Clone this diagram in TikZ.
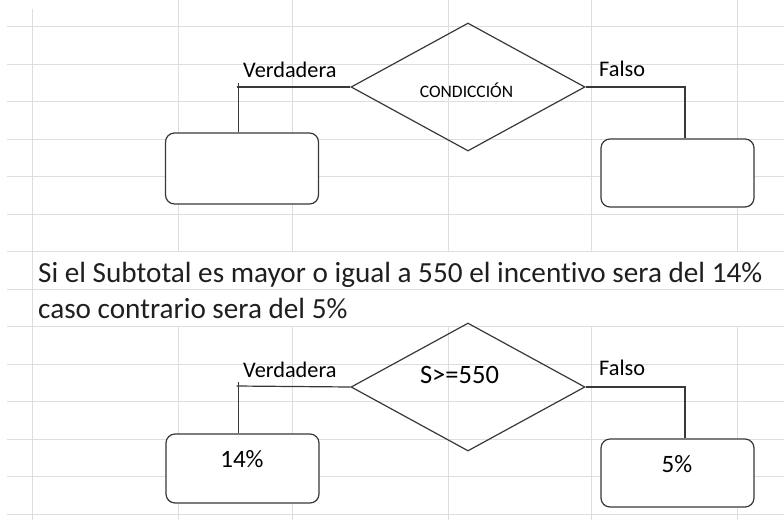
\documentclass[tikz,border=0pt]{standalone}
\usepackage{fontspec}
\setmainfont{Carlito}[Ligatures=NoCommon]
\usetikzlibrary{shapes.geometric, arrows}
\definecolor{cellgrid}{HTML}{DEDEDE}
\definecolor{ink}{HTML}{383838}
\tikzstyle{decision} = [diamond, minimum width=234pt, minimum height=128pt, inner sep=0pt, draw=ink, line width=1.2pt]
\tikzstyle{result} = [rectangle, rounded corners=9pt, minimum width=153pt, minimum height=69pt, draw=ink, fill=white, line width=1.2pt]
\tikzstyle{tag} = [inner sep=0pt, anchor=base west, font=\fontsize{22.3}{26}\selectfont]
\tikzstyle{value} = [inner sep=0pt, anchor=base, font=\fontsize{25}{30}\selectfont]
\tikzstyle{note} = [inner sep=0pt, anchor=base west, text=black!88, font=\fontsize{29.2}{35}\selectfont]
\tikzstyle{link} = [draw=ink, line width=1.2pt]
\tikzstyle{gridline} = [cellgrid, line width=1pt]

\begin{document}
\begin{tikzpicture}[x=1pt, y=-1pt]
\useasboundingbox (0,0) rectangle (784,520);

% cuadricula de la hoja
\foreach \k in {0,...,13}
  \draw [gridline] (7,26.5+37.5*\k) -- (784,26.5+37.5*\k);
\draw [gridline] (32,9) -- (32,520);
\foreach \x in {178,292.5,448,591,737} {
  \draw [gridline] (\x,0) -- (\x,251.5);
  \draw [gridline] (\x,326.5) -- (\x,520);
}

% esquema general
\node (cond1) [decision] at (468,87) {};
\node (yes1) [result, minimum height=71pt] at (242,168.5) {};
\node (no1) [result, minimum height=68pt] at (677.5,173) {};
\coordinate (t1) at (238.5,87);
\coordinate (e1) at (685,87);

\node (cond1txt) [inner sep=0pt, anchor=base, font=\fontsize{17.5}{20}\selectfont] at (466.5,97) {CONDICCIÓN};
\node (yes1txt) [tag] at (243,77) {Verdadera};
\node (no1txt) [tag] at (599,76) {Falso};

\draw [link] ([xshift=-2pt]t1) -- (cond1.west);
\draw [link] ([yshift=4pt]t1) -- (t1 |- yes1.north);
\draw [link] (cond1.east) -| (e1 |- no1.north);

% enunciado
\node (line1) [note] at (38,282) {Si el Subtotal es mayor o igual a 550 el incentivo sera del 14\%};
\node (line2) [note] at (38,318) {caso contrario sera del 5\%};

% ejemplo
\node (cond2) [decision] at (468,387) {};
\node (yes2) [result] at (242.5,468.5) {};
\node (no2) [result, minimum height=68pt] at (677.5,473) {};
\coordinate (t2) at (238.5,386);
\coordinate (e2) at (685,386);

\node (cond2txt) [value, font=\fontsize{26.5}{30}\selectfont] at (459.5,383) {S>=550};
\node (yes2txt) [tag] at (243,377) {Verdadera};
\node (no2txt) [tag] at (599,375) {Falso};
\node (yes2val) [value] at (242,467) {14\%};
\node (no2val) [value] at (677,472) {5\%};

\draw [link] ([xshift=-2pt]t2) -- (cond2.west);
\draw [link] ([yshift=4pt]t2) -- (t2 |- yes2.north);
\draw [link] (cond2.east) -| (e2 |- no2.north);

\end{tikzpicture}
\end{document}
